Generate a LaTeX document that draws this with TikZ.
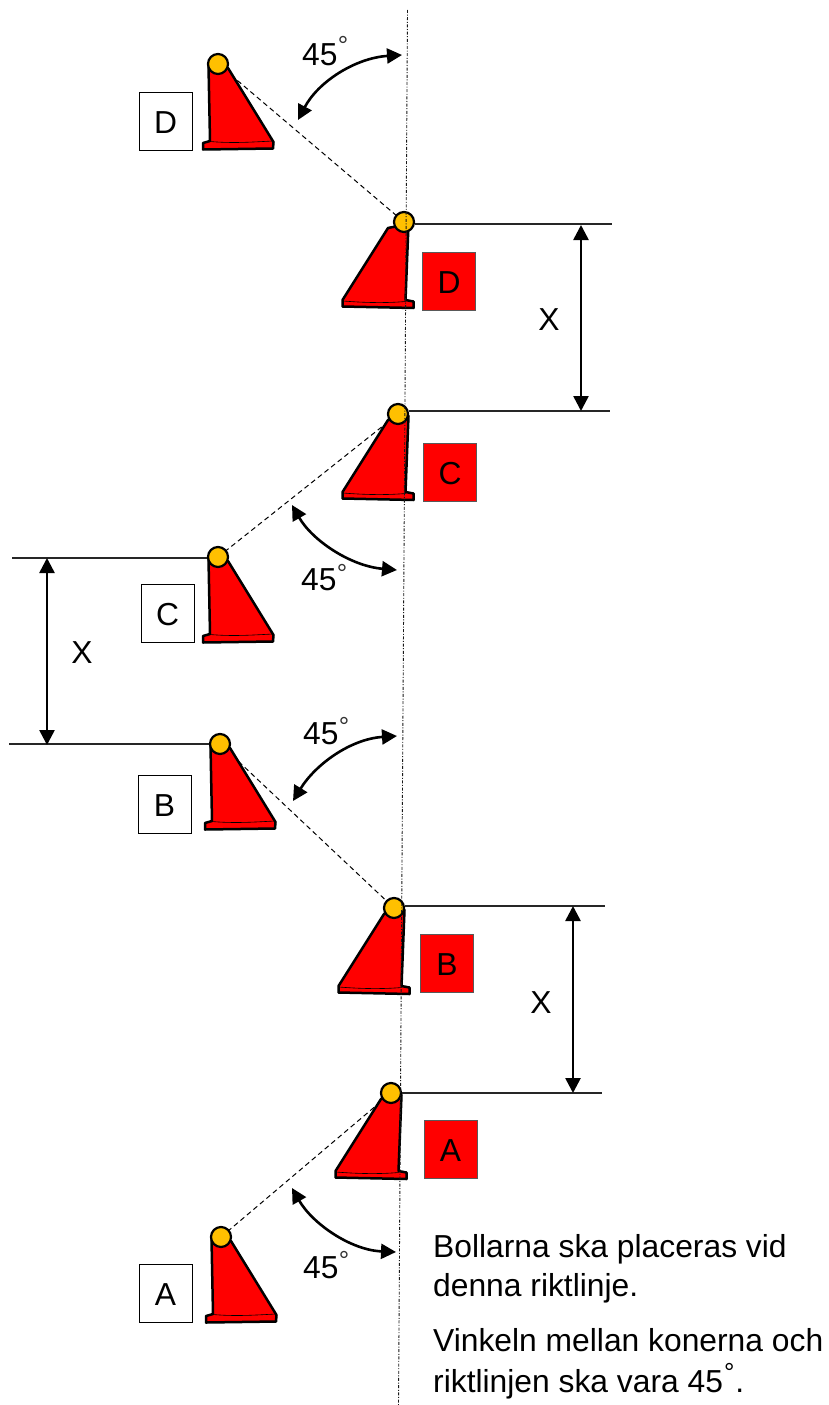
\documentclass[tikz,border=0pt]{standalone}
\usepackage{fontspec}
\setmainfont{Liberation Sans}
\usetikzlibrary{arrows.meta}
\definecolor{ballc}{HTML}{FFC000}
\tikzset{
  x=1pt,y=-1pt,
  txt/.style={font=\fontsize{31.8}{38}\selectfont,text=black,inner sep=0pt},
  bodytext/.style={txt,anchor=base west},
  degsign/.style={font=\fontsize{26}{26}\selectfont,text=black!80,inner sep=0pt,anchor=base},
  ballnode/.style={circle,draw=black,line width=2.2pt,fill=ballc,minimum size=20pt,inner sep=0pt},
  whitebox/.style={txt,draw=black,line width=0.8pt,fill=white,minimum width=53pt,minimum height=58pt,text height=25.8pt,text depth=0pt},
  redbox/.style={txt,draw=black!65,line width=0.8pt,fill=red,minimum width=53pt,minimum height=58pt,text height=25.8pt,text depth=0pt},
  coneline/.style={draw=black,line width=2.5pt,fill=red,line join=round},
  dimline/.style={black!85,line width=1.2pt},
  dimarrow/.style={black,line width=2.6pt,{Triangle[length=15pt,width=15pt]}-{Triangle[length=15pt,width=15pt]}},
  anglearrow/.style={black,line width=2.6pt,{Triangle[length=15pt,width=15pt]}-{Triangle[length=15pt,width=15pt]}},
  guideline/.style={black!90,line width=0.9pt,dash pattern=on 3pt off 1.6pt on 1pt off 1.6pt},
  dashline/.style={black,line width=1pt,dash pattern=on 5pt off 3.5pt},
  thinbase/.style={black,line width=0.6pt}
}
\newcommand{\leftcone}[2]{%
  \begin{scope}[shift={(#1,#2)}]
  \draw[coneline] (-9.5,2) -- (-8,77) -- (-15,79) -- (-15,85.5) -- (55,84.5) -- (55.5,78) -- (10,4) -- cycle;
  \draw[thinbase] (-8,77.5) .. controls (15,79.5) and (35,78) .. (55,77);
  \end{scope}}
\newcommand{\rightcone}[2]{%
  \begin{scope}[shift={(#1,#2)}]
  \draw[coneline] (-10,6) -- (-55.5,78) -- (-55.5,84.5) -- (15.5,86) -- (15.5,79.5) -- (7.5,78) -- (10.5,2) -- cycle;
  \draw[thinbase] (-55,79) .. controls (-30,81) and (-10,81) .. (7.5,79.5);
  \end{scope}}
\begin{document}
\begin{tikzpicture}
\useasboundingbox (0,0) rectangle (829,1405);
\fill[white] (0,0) rectangle (829,1405);
\coordinate (gt) at (407.5,10);
\coordinate (gb) at (398.5,1405);
\coordinate (ld) at (218,64);
\coordinate (rd) at (404,222);
\coordinate (rc) at (398,414);
\coordinate (lc) at (218,557);
\coordinate (lb) at (220,744);
\coordinate (rb) at (394,908);
\coordinate (ra) at (391,1093);
\coordinate (la) at (221,1237);
% dashed sight lines, behind the cones
\draw[dashline] (ld) -- (rd);
\draw[dashline] (lc) -- (rc);
\draw[dashline] (lb) -- (rb);
\draw[dashline] (la) -- (ra);
% cones
\leftcone{218}{64}
\rightcone{398}{222}
\rightcone{398}{414}
\leftcone{218}{557}
\leftcone{220}{744}
\rightcone{394}{908}
\rightcone{391}{1093}
\leftcone{221}{1237}
% balls
\node[ballnode] (bld) at (ld) {};
\node[ballnode] (brd) at (rd) {};
\node[ballnode] (brc) at (rc) {};
\node[ballnode] (blc) at (lc) {};
\node[ballnode] (blb) at (lb) {};
\node[ballnode] (brb) at (rb) {};
\node[ballnode] (bra) at (ra) {};
\node[ballnode] (bla) at (la) {};
\draw[guideline] (gt) -- (gb);
% boxes
\node[whitebox] (wd) at (165.5,121) {D};
\node[whitebox] (wc) at (167.5,613) {C};
\node[whitebox] (wb) at (164.5,804) {B};
\node[whitebox] (wa) at (165.5,1293) {A};
\node[redbox] (fd) at (449,281) {D};
\node[redbox] (fc) at (450,472) {C};
\node[redbox] (fb) at (447,963) {B};
\node[redbox] (fa) at (450.5,1149) {A};
% dimension lines
\coordinate (e1) at (612,224);
\coordinate (e2) at (610,411);
\coordinate (e3) at (605,906);
\coordinate (e4) at (602,1093);
\coordinate (e5) at (12,558);
\coordinate (e6) at (9,744);
\draw[dimline] (brd.east |- e1) -- (e1);
\draw[dimline] (brc.east |- e2) -- (e2);
\draw[dimline] (brb.east |- e3) -- (e3);
\draw[dimline] (bra.east |- e4) -- (e4);
\draw[dimline] (blc.west |- e5) -- (e5);
\draw[dimline] (blb.west |- e6) -- (e6);
\coordinate (v1a) at (581,225); \coordinate (v1b) at (581,411);
\coordinate (v2a) at (573,906); \coordinate (v2b) at (573,1093);
\coordinate (v3a) at (47,558);  \coordinate (v3b) at (47,745);
\draw[dimarrow] (v1a) -- (v1b);
\draw[dimarrow] (v2a) -- (v2b);
\draw[dimarrow] (v3a) -- (v3b);
\node[txt] (x1) at (549,320) {X};
\node[txt] (x2) at (541,1003) {X};
\node[txt] (x3) at (82,653) {X};
% angle arrows
\coordinate (a1a) at (402,55);  \coordinate (a1b) at (298,120);
\coordinate (a2a) at (292,505); \coordinate (a2b) at (397,570);
\coordinate (a3a) at (397,736); \coordinate (a3b) at (293,801);
\coordinate (a4a) at (292,1188); \coordinate (a4b) at (396,1252);
\draw[anglearrow] (a1a) .. controls (355,58) and (318,82) .. (a1b);
\draw[anglearrow] (a2a) .. controls (312,540) and (350,566) .. (a2b);
\draw[anglearrow] (a3a) .. controls (350,739) and (315,765) .. (a3b);
\draw[anglearrow] (a4a) .. controls (312,1223) and (350,1250) .. (a4b);
\node[txt,anchor=base west] (d1) at (302,66) {45};
\node[txt,anchor=base west] (d2) at (301,590) {45};
\node[txt,anchor=base west] (d3) at (303,744) {45};
\node[txt,anchor=base west] (d4) at (303,1278) {45};
\node[degsign] (o1) at (343,55) {°};
\node[degsign] (o2) at (342,582) {°};
\node[degsign] (o3) at (344,735) {°};
\node[degsign] (o4) at (344,1269) {°};
% text
\node[bodytext] (t1) at (433,1257) {Bollarna ska placeras vid};
\node[bodytext] (t2) at (433,1296) {denna riktlinje.};
\node[bodytext] (t3) at (433,1351) {Vinkeln mellan konerna och};
\node[bodytext] (t4) at (433,1392) {riktlinjen ska vara 45\kern1pt{\fontsize{26}{26}\selectfont\raisebox{11pt}{°}}\kern1pt.};
\end{tikzpicture}
\end{document}
